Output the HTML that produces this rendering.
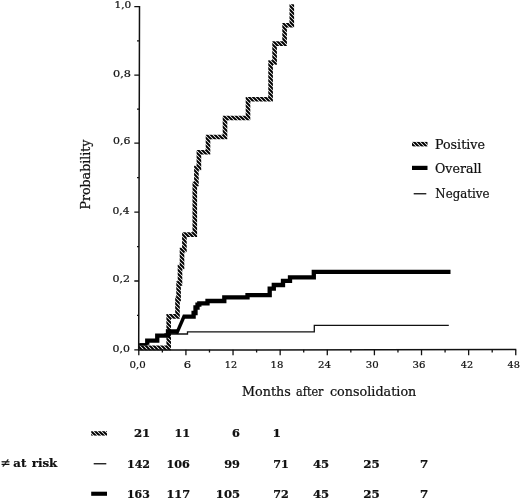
<!DOCTYPE html>
<html><head><meta charset="utf-8"><title>Cumulative incidence</title>
<style>
html,body{margin:0;padding:0;background:#fff}
svg{display:block;filter:blur(0.4px)}
text{font-family:"DejaVu Serif","Liberation Serif",serif;fill:#111;stroke:#111;stroke-width:0.22px}
</style></head>
<body>
<svg width="520" height="499" viewBox="0 0 520 499">
<defs>
<pattern id="hatch" patternUnits="userSpaceOnUse" width="4" height="4">
<rect width="4" height="4" fill="#fff"/>
<path d="M-1,-1L5,5M-1,3L1,5M3,-1L5,1" stroke="#000" stroke-width="1.95"/>
</pattern>
</defs>
<rect width="520" height="499" fill="#fff"/>
<!-- curves -->
<path d="M139.5,350 V344 H147 V340 H157 V336 H165 V334 H187.5 V331.9 H314.3 V325.3 H448.8" fill="none" stroke="#111" stroke-width="1.3"/>
<path d="M139,347.9 H168.7 V316.4 H177.5 V299 H178.6 V283.5 H180 V267 H182 V250 H184.4 V234.6 H194.8 V184 H196.4 V168 H198.9 V152.3 H208 V137 H225 V118 H248 V99.2 H270.6 V62.5 H274.6 V43.6 H284.6 V25.2 H291.8 V4.2" fill="none" stroke="url(#hatch)" stroke-width="4.6" stroke-linejoin="miter"/>
<path d="M147.25,344.7 V340.6 H157.25 V335.7 H168 V331.5 H177.5 M182.8,316.7 H193.6 V313 H195.5 V307.5 H197.5 V304.6 H199.3 V303.3 H207.5 V301 H224.3 V297.4 H247.5 V295.2 H269.7 V288.6 H273.8 V285 H283 V280.8 H290 V277.3 H313.8 V271.8 H450.5" fill="none" stroke="#000" stroke-width="4.3" stroke-linejoin="miter"/>
<rect x="139.6" y="343.2" width="8" height="2.5" fill="#000"/>
<path d="M176.6,333.6 L184.2,316" fill="none" stroke="#000" stroke-width="3.4"/>
<!-- axes -->
<path d="M139.5,6 L138.7,350.1 L516.3,349.5" fill="none" stroke="#111" stroke-width="1.5"/>
<path d="M139.00,349.90H134.30 M139.00,315.45H137.00 M139.00,281.00H134.30 M139.00,246.60H137.00 M139.00,212.20H134.30 M139.00,177.65H137.00 M139.00,143.10H134.30 M139.00,109.15H137.00 M139.00,75.20H134.30 M139.00,40.95H137.00 M139.00,6.70H134.30 M138.80,349.70V355.20 M162.36,349.70V352.60 M185.92,349.70V355.20 M209.48,349.70V352.60 M233.04,349.70V355.20 M256.60,349.70V352.60 M280.16,349.70V355.20 M303.72,349.70V352.60 M327.28,349.70V355.20 M350.84,349.70V352.60 M374.40,349.70V355.20 M397.96,349.70V352.60 M421.52,349.70V355.20 M445.08,349.70V352.60 M468.64,349.70V355.20 M492.20,349.70V352.60 M515.76,349.70V355.20" fill="none" stroke="#111" stroke-width="1.3"/>
<!-- legend -->
<rect x="412" y="141.9" width="15.5" height="4.5" fill="url(#hatch)"/>
<rect x="412" y="165.8" width="15.5" height="4.2" fill="#000"/>
<rect x="413.7" y="193.1" width="12.6" height="1.3" fill="#111"/>
<!-- table symbols -->
<rect x="91.2" y="431.2" width="15.8" height="4.4" fill="url(#hatch)"/>
<rect x="93.7" y="463.1" width="12.6" height="1.3" fill="#111"/>
<rect x="91.2" y="491.7" width="15.8" height="4.1" fill="#000"/>
<!-- text -->
<text x="114.55" y="8.30" font-size="9.8" font-weight="normal" textLength="16.78" lengthAdjust="spacingAndGlyphs">1,0</text>
<text x="113.04" y="76.70" font-size="9.8" font-weight="normal" textLength="17.95" lengthAdjust="spacingAndGlyphs">0,8</text>
<text x="112.96" y="144.20" font-size="9.8" font-weight="normal" textLength="17.40" lengthAdjust="spacingAndGlyphs">0,6</text>
<text x="112.48" y="214.00" font-size="9.8" font-weight="normal" textLength="17.10" lengthAdjust="spacingAndGlyphs">0,4</text>
<text x="112.46" y="282.40" font-size="9.8" font-weight="normal" textLength="17.49" lengthAdjust="spacingAndGlyphs">0,2</text>
<text x="112.46" y="351.80" font-size="9.8" font-weight="normal" textLength="17.40" lengthAdjust="spacingAndGlyphs">0,0</text>
<text x="129.52" y="367.80" font-size="9.8" font-weight="normal" textLength="16.20" lengthAdjust="spacingAndGlyphs">0,0</text>
<text x="183.72" y="367.80" font-size="9.8" font-weight="normal" textLength="7.35" lengthAdjust="spacingAndGlyphs">6</text>
<text x="224.87" y="367.80" font-size="9.8" font-weight="normal" textLength="12.29" lengthAdjust="spacingAndGlyphs">12</text>
<text x="270.61" y="367.80" font-size="9.8" font-weight="normal" textLength="12.82" lengthAdjust="spacingAndGlyphs">18</text>
<text x="318.02" y="367.80" font-size="9.8" font-weight="normal" textLength="12.97" lengthAdjust="spacingAndGlyphs">24</text>
<text x="365.72" y="367.80" font-size="9.8" font-weight="normal" textLength="12.92" lengthAdjust="spacingAndGlyphs">30</text>
<text x="412.52" y="367.80" font-size="9.8" font-weight="normal" textLength="12.92" lengthAdjust="spacingAndGlyphs">36</text>
<text x="460.80" y="367.80" font-size="9.8" font-weight="normal" textLength="12.36" lengthAdjust="spacingAndGlyphs">42</text>
<text x="507.55" y="367.80" font-size="9.8" font-weight="normal" textLength="12.36" lengthAdjust="spacingAndGlyphs">48</text>
<text x="242.09" y="395.70" font-size="12.4" font-weight="normal" textLength="48.74" lengthAdjust="spacingAndGlyphs">Months</text>
<text x="296.05" y="395.70" font-size="12.4" font-weight="normal" textLength="27.43" lengthAdjust="spacingAndGlyphs">after</text>
<text x="329.98" y="395.70" font-size="12.4" font-weight="normal" textLength="86.35" lengthAdjust="spacingAndGlyphs">consolidation</text>
<text x="435.04" y="148.75" font-size="12.4" font-weight="normal" textLength="49.82" lengthAdjust="spacingAndGlyphs">Positive</text>
<text x="435.04" y="172.50" font-size="12.4" font-weight="normal" textLength="46.40" lengthAdjust="spacingAndGlyphs">Overall</text>
<text x="435.32" y="198.00" font-size="12.4" font-weight="normal" textLength="54.13" lengthAdjust="spacingAndGlyphs">Negative</text>
<text x="0.39" y="467.40" font-size="12.4" font-weight="normal" textLength="10.06" lengthAdjust="spacingAndGlyphs">≠</text>
<text x="13.30" y="467.20" font-size="11.8" font-weight="bold" textLength="12.99" lengthAdjust="spacingAndGlyphs">at</text>
<text x="31.65" y="467.20" font-size="11.8" font-weight="bold" textLength="25.72" lengthAdjust="spacingAndGlyphs">risk</text>
<text x="133.94" y="437.00" font-size="10.2" font-weight="bold" textLength="16.34" lengthAdjust="spacingAndGlyphs">21</text>
<text x="174.40" y="437.00" font-size="10.2" font-weight="bold" textLength="15.84" lengthAdjust="spacingAndGlyphs">11</text>
<text x="231.97" y="437.00" font-size="10.2" font-weight="bold" textLength="7.90" lengthAdjust="spacingAndGlyphs">6</text>
<text x="272.56" y="437.00" font-size="10.2" font-weight="bold" textLength="8.44" lengthAdjust="spacingAndGlyphs">1</text>
<text x="126.94" y="467.60" font-size="10.2" font-weight="bold" textLength="23.09" lengthAdjust="spacingAndGlyphs">142</text>
<text x="166.43" y="467.60" font-size="10.2" font-weight="bold" textLength="23.34" lengthAdjust="spacingAndGlyphs">106</text>
<text x="224.25" y="467.60" font-size="10.2" font-weight="bold" textLength="15.72" lengthAdjust="spacingAndGlyphs">99</text>
<text x="273.23" y="467.60" font-size="10.2" font-weight="bold" textLength="15.49" lengthAdjust="spacingAndGlyphs">71</text>
<text x="312.98" y="467.60" font-size="10.2" font-weight="bold" textLength="16.26" lengthAdjust="spacingAndGlyphs">45</text>
<text x="363.17" y="467.60" font-size="10.2" font-weight="bold" textLength="16.58" lengthAdjust="spacingAndGlyphs">25</text>
<text x="419.93" y="467.60" font-size="10.2" font-weight="bold" textLength="8.25" lengthAdjust="spacingAndGlyphs">7</text>
<text x="126.96" y="497.70" font-size="10.2" font-weight="bold" textLength="22.79" lengthAdjust="spacingAndGlyphs">163</text>
<text x="166.41" y="497.70" font-size="10.2" font-weight="bold" textLength="23.64" lengthAdjust="spacingAndGlyphs">117</text>
<text x="215.88" y="497.70" font-size="10.2" font-weight="bold" textLength="24.19" lengthAdjust="spacingAndGlyphs">105</text>
<text x="273.23" y="497.70" font-size="10.2" font-weight="bold" textLength="15.49" lengthAdjust="spacingAndGlyphs">72</text>
<text x="312.98" y="497.70" font-size="10.2" font-weight="bold" textLength="16.26" lengthAdjust="spacingAndGlyphs">45</text>
<text x="363.17" y="497.70" font-size="10.2" font-weight="bold" textLength="16.58" lengthAdjust="spacingAndGlyphs">25</text>
<text x="419.93" y="497.70" font-size="10.2" font-weight="bold" textLength="8.25" lengthAdjust="spacingAndGlyphs">7</text>
<text transform="translate(90.40,209.56) rotate(-90)" x="0" y="0" font-size="12.4" font-weight="normal" textLength="70.06" lengthAdjust="spacingAndGlyphs">Probability</text>
</svg>
</body></html>
